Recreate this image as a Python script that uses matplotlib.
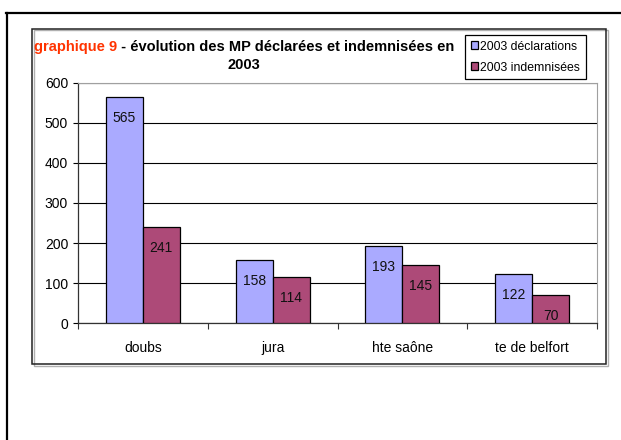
import matplotlib
matplotlib.use("Agg")
import matplotlib.pyplot as plt
import numpy as np
from matplotlib import font_manager
from matplotlib.patches import Patch, Rectangle
from matplotlib.lines import Line2D

# data
categories = ["doubs", "jura", "hte saône", "te de belfort"]
declarations = [565, 158, 193, 122]
indemnisees = [241, 114, 145, 70]
series_names = ["2003 déclarations", "2003 indemnisées"]
yticks = [0, 100, 200, 300, 400, 500, 600]

installed = {f.name for f in font_manager.fontManager.ttflist}
font = "Liberation Sans Narrow" if "Liberation Sans Narrow" in installed else "Liberation Sans"
plt.rcParams["font.family"] = [font, "DejaVu Sans"]
plt.rcParams["font.size"] = 10

W, H = 621, 440
blue = "#aaaaff"
plum = "#ad4a78"

fig = plt.figure(figsize=(W / 100, H / 100), dpi=100, facecolor="white")

def fx(px):
    return px / W

def fy(py):
    return 1 - py / H

# outer frame (only top and left are visible)
fig.add_artist(Line2D([fx(6.5), fx(6.5)], [fy(13), fy(440)], color="black", lw=1.6))
fig.add_artist(Line2D([fx(6), fx(621)], [fy(13), fy(13)], color="black", lw=1.6))

# chart area box with a light shadow
fig.add_artist(Rectangle((fx(33.5), fy(365.5)), fx(606) - fx(32), fy(29) - fy(364),
                         transform=fig.transFigure, facecolor="none", edgecolor="#b0b0b0", lw=1.0))
fig.add_artist(Rectangle((fx(32), fy(364)), fx(606) - fx(32), fy(29) - fy(364),
                         transform=fig.transFigure, facecolor="none", edgecolor="#222222", lw=1.1))

# plot area
ax = fig.add_axes([fx(78), fy(323), fx(597) - fx(78), fy(83) - fy(323)])
x = np.arange(len(categories))
w = 0.285
b1 = ax.bar(x - w / 2, declarations, w, color=blue, edgecolor="black", linewidth=0.9, zorder=3)
b2 = ax.bar(x + w / 2, indemnisees, w, color=plum, edgecolor="black", linewidth=0.9, zorder=3)

for bars, vals in ((b1, declarations), (b2, indemnisees)):
    for rect, v in zip(bars, vals):
        ax.annotate(str(v), xy=(rect.get_x() + rect.get_width() / 2, v),
                    xytext=(0, -21), textcoords="offset pixels",
                    ha="center", va="center", fontsize=10, color="#111111", zorder=4)

ax.set_ylim(0, 600)
ax.set_xlim(-0.5, len(categories) - 0.5)
ax.set_yticks(yticks)
ax.yaxis.grid(True, color="black", lw=0.8, zorder=1)
ax.set_axisbelow(True)
ax.tick_params(axis="y", length=3.6, width=0.8, pad=3.5, labelsize=10, color="black")

ax.set_xticks(x)
ax.set_xticklabels(categories)
ax.set_xticks(np.arange(len(categories) + 1) - 0.5, minor=True)
ax.tick_params(axis="x", which="major", length=0, pad=13, labelsize=10)
ax.tick_params(axis="x", which="minor", length=4, width=0.8, color="#333333")

for side in ("top", "right"):
    ax.spines[side].set_color("#a0a0a0")
    ax.spines[side].set_linewidth(0.8)
ax.spines["left"].set_color("#333333")
ax.spines["bottom"].set_color("#333333")
ax.spines["left"].set_linewidth(0.9)
ax.spines["bottom"].set_linewidth(0.9)

# title: red part, then the rest chained right after it
t1 = fig.text(fx(34), fy(51), "graphique 9", ha="left", va="baseline",
              fontsize=10.5, fontweight="bold", color="#ff3300")
fig.add_artist(plt.Annotation(" - évolution des MP déclarées et indemnisées en", xy=(1, 0),
                              xycoords=t1, ha="left", va="bottom",
                              fontsize=10.5, fontweight="bold", color="black"))
fig.text(fx(244), fy(69), "2003", ha="center", va="baseline", fontsize=10.5, fontweight="bold", color="black")

handles = [Patch(facecolor=blue, edgecolor="black", lw=0.9),
           Patch(facecolor=plum, edgecolor="black", lw=0.9)]
leg = fig.legend(handles, series_names, loc="upper left", bbox_to_anchor=(fx(465), fy(35)),
                 frameon=True, fancybox=False, edgecolor="black", framealpha=1,
                 borderpad=0.45, handlelength=0.6, handleheight=0.6, handletextpad=0.2,
                 labelspacing=0.75, borderaxespad=0, fontsize=8.8)
leg.get_frame().set_linewidth(0.9)

fig.savefig("out.png", dpi=100, facecolor="white")
